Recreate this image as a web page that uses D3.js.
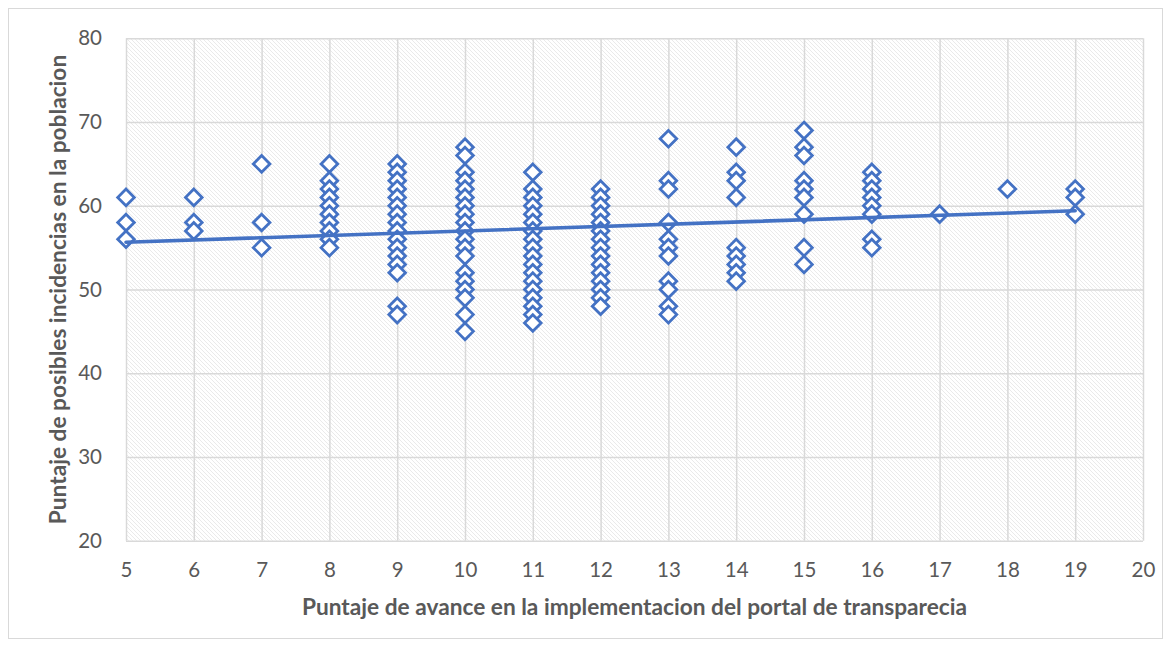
<!DOCTYPE html>
<html>
<head>
<meta charset="utf-8">
<script src="https://cdn.jsdelivr.net/npm/d3@7/dist/d3.min.js"></script>
<style>
  html, body { margin: 0; padding: 0; background: #fff; }
  svg { display: block; }
</style>
</head>
<body>
<svg id="chart" width="1170" height="647"></svg>
<script>
// ---- data ----
const xLabels = [5, 6, 7, 8, 9, 10, 11, 12, 13, 14, 15, 16, 17, 18, 19, 20];
const yLabels = [20, 30, 40, 50, 60, 70, 80];
const col5  = [61, 58, 56];
const col6  = [61, 58, 57];
const col7  = [65, 58, 55];
const col8  = [65, 63, 62, 61, 60, 59, 58, 57, 56, 55];
const col9  = [65, 64, 63, 62, 61, 60, 59, 58, 57, 56, 55, 54, 53, 52, 48, 47];
const col10 = [67, 66, 64, 63, 62, 61, 60, 59, 58, 57, 56, 55, 54, 52, 51, 50, 49, 47, 45];
const col11 = [64, 62, 61, 60, 59, 58, 57, 56, 55, 54, 53, 52, 51, 50, 49, 48, 47, 46];
const col12 = [62, 61, 60, 59, 58, 57, 56, 55, 54, 53, 52, 51, 50, 49, 48];
const col13 = [68, 63, 62, 58, 56, 55, 54, 51, 50, 48, 47];
const col14 = [67, 64, 63, 61, 55, 54, 53, 52, 51];
const col15 = [69, 67, 66, 63, 62, 61, 59, 55, 53];
const col16 = [64, 63, 62, 61, 60, 59, 56, 55];
const col17 = [59];
const col18 = [62];
const col19 = [62, 61, 59];
const trendX = [5, 19];
const trendY = [55.65, 59.4];
const xTitle = "Puntaje de avance en la implementacion del portal de transparecia";
const yTitle = "Puntaje de posibles incidencias en la poblacion";

const columns = [
  [5, col5], [6, col6], [7, col7], [8, col8], [9, col9], [10, col10],
  [11, col11], [12, col12], [13, col13], [14, col14], [15, col15],
  [16, col16], [17, col17], [18, col18], [19, col19]
];
const points = [];
columns.forEach(([x, ys]) => ys.forEach(y => points.push({x, y})));

// ---- layout ----
const plot = {left: 126, top: 38.3, right: 1143, bottom: 540.7};
const FONT = "Lato, 'Open Sans', 'Liberation Sans', sans-serif";
const textColor = "#595959";
const blue = "#4472C4";
const gridColor = "#d9d9d9";

const svg = d3.select("#chart");

// outer chart border
svg.append("rect")
  .attr("x", 8.5).attr("y", 8.5)
  .attr("width", 1154).attr("height", 630)
  .attr("fill", "#fff").attr("stroke", "#d9d9d9").attr("stroke-width", 1);

// hatch pattern
const defs = svg.append("defs");
const pat = defs.append("pattern")
  .attr("id", "hatch").attr("patternUnits", "userSpaceOnUse")
  .attr("width", 4).attr("height", 4);
pat.append("rect").attr("width", 4).attr("height", 4).attr("fill", "#fff");
pat.append("path")
  .attr("d", "M-1,-1 L5,5 M-1,3 L1,5 M3,-1 L5,1")
  .attr("stroke", "#e4e4e4").attr("stroke-width", 0.8);

const x = d3.scaleLinear().domain([5, 20]).range([plot.left, plot.right]);
const y = d3.scaleLinear().domain([20, 80]).range([plot.bottom, plot.top]);

svg.append("rect")
  .attr("x", plot.left).attr("y", plot.top)
  .attr("width", plot.right - plot.left).attr("height", plot.bottom - plot.top)
  .attr("fill", "url(#hatch)");

// gridlines + tick labels
const gx = svg.append("g")
  .attr("transform", `translate(0,${plot.bottom})`)
  .call(d3.axisBottom(x).tickValues(xLabels).tickSize(-(plot.bottom - plot.top)).tickFormat(d => d).tickPadding(22));
gx.select(".domain").remove();
gx.selectAll(".tick line").attr("stroke", gridColor).attr("stroke-width", 1.5);
gx.selectAll(".tick text")
  .attr("fill", textColor).style("font-family", FONT).style("font-size", "20.5px");

const gy = svg.append("g")
  .attr("transform", `translate(${plot.left},0)`)
  .call(d3.axisLeft(y).tickValues(yLabels).tickSize(-(plot.right - plot.left)).tickFormat(d => d).tickPadding(24));
gy.select(".domain").remove();
gy.selectAll(".tick line").attr("stroke", gridColor).attr("stroke-width", 1.5);
gy.selectAll(".tick text")
  .attr("fill", textColor).style("font-family", FONT).style("font-size", "20.5px");

// points (diamonds)
const r = 8.3;
const dPath = `M0,${-r} L${r},0 L0,${r} L${-r},0 Z`;
svg.append("g").selectAll("path")
  .data(points)
  .join("path")
  .attr("d", dPath)
  .attr("transform", d => `translate(${x(d.x)},${y(d.y)})`)
  .attr("fill", "#fff")
  .attr("stroke", blue)
  .attr("stroke-width", 2.8)
  .attr("stroke-linejoin", "miter");

// trendline
const line = d3.line().x(d => x(d[0])).y(d => y(d[1]));
svg.append("path")
  .datum(trendX.map((v, i) => [v, trendY[i]]))
  .attr("d", line)
  .attr("fill", "none")
  .attr("stroke", blue)
  .attr("stroke-width", 3.6)
  .attr("stroke-linecap", "round");

// axis titles
svg.append("text")
  .attr("x", (plot.left + plot.right) / 2).attr("y", 615)
  .attr("text-anchor", "middle")
  .attr("fill", textColor)
  .style("font-family", FONT).style("font-weight", "bold").style("font-size", "22.7px")
  .text(xTitle);

svg.append("text")
  .attr("transform", `translate(66,${(plot.top + plot.bottom) / 2}) rotate(-90)`)
  .attr("text-anchor", "middle")
  .attr("fill", textColor)
  .style("font-family", FONT).style("font-weight", "bold").style("font-size", "22.7px")
  .text(yTitle);
</script>
</body>
</html>
